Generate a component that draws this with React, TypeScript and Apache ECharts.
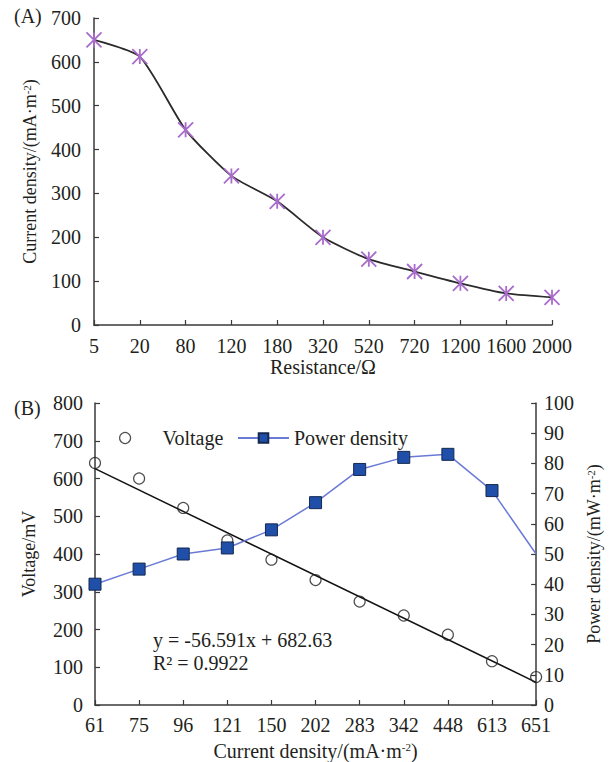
import React, { useEffect, useRef } from "react";
import * as echarts from "echarts";

// Panel A
const resistance = ["5", "20", "80", "120", "180", "320", "520", "720", "1200", "1600", "2000"];
const currentDensityA = [650, 612, 445, 340, 282, 200, 150, 122, 95, 72, 63];

// Panel B
const currentDensityB = ["61", "75", "96", "121", "150", "202", "283", "342", "448", "613", "651"];
const voltage = [641, 600, 522, 436, 385, 331, 274, 237, 186, 116, 74];
const powerDensity = [40, 45, 50, 52, 58, 67, 78, 82, 83, 71, 50];
// printed linear fit of voltage vs point index (1..11)
const trendSlope = -56.591;
const trendIntercept = 682.63;

const FONT = "'Liberation Serif', 'Times New Roman', serif";
const TXT = "#231f20";
const AX = "#3a3a3a";
const FS = 20; // horizontal text size
const VFS = 18; // vertical axis-name size

const supRich = {
  sup: { fontFamily: FONT, fontSize: 11, color: TXT, verticalAlign: "top", lineHeight: 18 },
};

export default function App() {
  const ref = useRef<HTMLDivElement>(null);
  useEffect(() => {
    if (!ref.current) return;
    const chart = echarts.init(ref.current, undefined, { renderer: "svg" });
    const axisCommon = {
      axisLine: { show: true, lineStyle: { color: AX, width: 1.5 } },
      axisTick: { show: true, inside: true, length: 5, lineStyle: { color: AX, width: 1.2 } },
      splitLine: { show: false },
    };
    const hName = { fontFamily: FONT, fontSize: FS, color: TXT, rich: supRich };
    const vName = { fontFamily: FONT, fontSize: VFS, color: TXT, rich: supRich };
    const tickLbl = { fontFamily: FONT, fontSize: FS, color: TXT };
    const last = currentDensityB.length - 1;
    const trend = currentDensityB.map((_, i) =>
      i === 0 || i === last ? +(trendSlope * (i + 1) + trendIntercept).toFixed(2) : null
    );
    chart.setOption({
      animation: false,
      backgroundColor: "#ffffff",
      textStyle: { fontFamily: FONT, color: TXT },
      grid: [
        { left: 94, top: 18, width: 458, height: 307 },
        { left: 95, top: 403, width: 450, height: 304 },
      ],
      legend: [
        {
          left: 114,
          top: 423,
          itemWidth: 51,
          itemHeight: 11,
          textStyle: { fontFamily: FONT, fontSize: FS, color: TXT, padding: [0, 0, 0, 7] },
          itemStyle: { borderWidth: 1.2 },
          data: ["Voltage"],
        },
        {
          left: 232,
          top: 423,
          itemWidth: 51,
          itemHeight: 12,
          textStyle: { fontFamily: FONT, fontSize: FS, color: TXT },
          data: ["Power density"],
        },
      ],
      xAxis: [
        {
          ...axisCommon,
          gridIndex: 0,
          type: "category",
          data: resistance,
          boundaryGap: false,
          name: "Resistance/Ω",
          nameLocation: "middle",
          nameGap: 30,
          nameTextStyle: hName,
          axisLabel: { ...tickLbl, interval: 0, margin: 11 },
          axisTick: { ...axisCommon.axisTick, interval: 0 },
        },
        {
          ...axisCommon,
          gridIndex: 1,
          type: "category",
          data: currentDensityB,
          boundaryGap: false,
          name: "Current density/(mA·m{sup|-2})",
          nameLocation: "middle",
          nameGap: 36,
          nameTextStyle: hName,
          axisLabel: { ...tickLbl, interval: 0, margin: 11, lineHeight: 18 },
          axisTick: { ...axisCommon.axisTick, interval: 0 },
        },
      ],
      yAxis: [
        {
          ...axisCommon,
          gridIndex: 0,
          type: "value",
          min: 0,
          max: 700,
          interval: 100,
          name: "Current density/(mA·m{sup|-2})",
          nameLocation: "middle",
          nameGap: 55,
          nameRotate: 90,
          nameTextStyle: vName,
          axisLabel: { ...tickLbl, margin: 13, lineHeight: 16 },
        },
        {
          ...axisCommon,
          gridIndex: 1,
          type: "value",
          min: 0,
          max: 800,
          interval: 100,
          name: "Voltage/mV",
          nameLocation: "middle",
          nameGap: 57,
          nameRotate: 90,
          nameTextStyle: vName,
          axisLabel: { ...tickLbl, margin: 12, lineHeight: 16 },
        },
        {
          ...axisCommon,
          gridIndex: 1,
          type: "value",
          position: "right",
          min: 0,
          max: 100,
          interval: 10,
          name: "Power density/(mW·m{sup|-2})",
          nameLocation: "middle",
          nameGap: 46,
          nameRotate: 90,
          nameTextStyle: vName,
          axisLabel: { ...tickLbl, margin: 8, lineHeight: 16 },
        },
      ],
      series: [
        {
          type: "line",
          name: "Current density",
          xAxisIndex: 0,
          yAxisIndex: 0,
          data: currentDensityA,
          smooth: 0.2,
          lineStyle: { color: "#2a2a2a", width: 1.8 },
          symbol: "path://M0,0L10,10M10,0L0,10M5,0L5,10",
          symbolSize: 15,
          itemStyle: { color: "none", borderColor: "#a96ccb", borderWidth: 1.8 },
        },
        {
          type: "line",
          name: "Trend",
          xAxisIndex: 1,
          yAxisIndex: 1,
          data: trend,
          connectNulls: true,
          showSymbol: false,
          symbol: "none",
          lineStyle: { color: "#111", width: 1.5 },
          z: 2,
        },
        {
          type: "scatter",
          name: "Voltage",
          xAxisIndex: 1,
          yAxisIndex: 1,
          data: voltage,
          symbol: "circle",
          symbolSize: 11,
          itemStyle: { color: "rgba(255,255,255,0)", borderColor: "#222", borderWidth: 1.2 },
          z: 3,
        },
        {
          type: "line",
          name: "Power density",
          xAxisIndex: 1,
          yAxisIndex: 2,
          data: powerDensity.map((v, i) => (i === last ? { value: v, symbol: "none" } : v)),
          symbol: "rect",
          symbolSize: 12,
          lineStyle: { color: "#6a7ad6", width: 1.5 },
          itemStyle: { color: "#1f4fa8", borderColor: "#142850", borderWidth: 1 },
          z: 4,
        },
      ],
      graphic: [
        { type: "text", left: 14, top: 6, style: { text: "(A)", font: `${FS}px ${FONT}`, fill: TXT } },
        { type: "text", left: 14, top: 398, style: { text: "(B)", font: `${FS}px ${FONT}`, fill: TXT } },
        { type: "text", left: 153, top: 630, style: { text: "y = -56.591x + 682.63", font: `${FS}px ${FONT}`, fill: TXT } },
        { type: "text", left: 153, top: 653, style: { text: "R² = 0.9922", font: `${FS}px ${FONT}`, fill: TXT } },
      ],
    });
    return () => chart.dispose();
  }, []);
  return (
    <div
      ref={ref}
      style={{ position: "fixed", left: 0, top: 0, width: 611, height: 762, background: "#fff" }}
    />
  );
}
